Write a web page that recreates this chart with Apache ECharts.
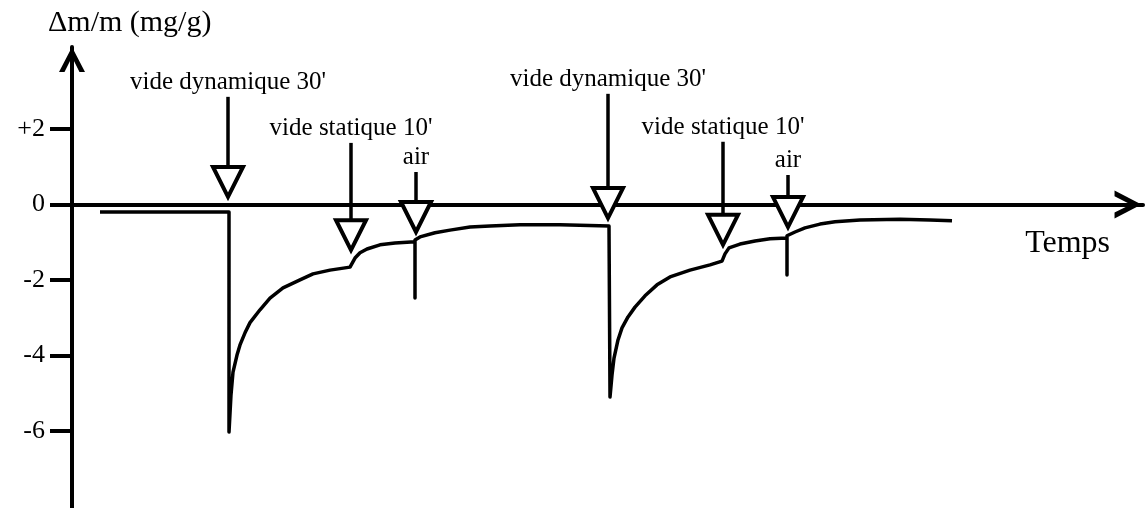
<!DOCTYPE html>
<html>
<head>
<meta charset="utf-8">
<script src="https://cdn.jsdelivr.net/npm/echarts@6/dist/echarts.min.js"></script>
<style>html,body{margin:0;padding:0;background:#fff;}#chart{width:1145px;height:508px;}</style>
</head>
<body>
<div id="chart"></div>
<script>
// ---- data (time in arbitrary units, mass change in mg/g) ----
const timeValues = [2.8, 15.7, 15.7, 15.9, 16.1, 16.5, 16.8, 17.3, 17.8, 18.8, 19.8, 21.1, 22.8, 24.1, 25.8, 27.8,
  28.0, 28.3, 28.8, 29.5, 30.8, 32.3, 34.3, 34.3, 34.3,
  34.8, 36.3, 37.8, 39.8, 41.8, 44.8, 48.8, 53.7, 53.8,
  54.0, 54.2, 54.6, 55.0, 55.6, 56.3, 57.3, 58.5, 59.8, 61.8, 63.8, 65.0,
  65.3, 65.7, 66.8, 68.3, 69.8, 71.5, 71.5, 71.5,
  72.3, 73.3, 74.8, 76.3, 78.8, 82.8, 85.8, 88.0];
const massValues = [-0.20, -0.20, -6.03, -5.04, -4.44, -3.99, -3.72, -3.40, -3.13, -2.79, -2.48, -2.21, -2.00, -1.84, -1.74, -1.66,
  -1.64, -1.42, -1.28, -1.18, -1.07, -1.02, -0.99, -2.48, -0.94,
  -0.86, -0.75, -0.68, -0.60, -0.57, -0.54, -0.54, -0.57, -5.10,
  -4.52, -4.07, -3.59, -3.27, -2.98, -2.72, -2.42, -2.13, -1.92, -1.74, -1.60, -1.50,
  -1.31, -1.15, -1.05, -0.97, -0.91, -0.89, -1.87, -0.83,
  -0.73, -0.62, -0.52, -0.46, -0.41, -0.39, -0.41, -0.43];

const eventTimes = [15.6, 27.9, 34.4, 53.6, 65.1, 71.6];
const eventTips  = [0.20, -1.21, -0.73, -0.36, -1.07, -0.60];
const eventTails = [2.85, 1.63, 0.86, 2.93, 1.66, 0.78];
const eventLabels = ["vide dynamique 30'", "vide statique 10'", "air", "vide dynamique 30'", "vide statique 10'", "air"];

const yTickValues = [2, 0, -2, -4, -6];
const yTickLabels = ['+2', '0', '-2', '-4', '-6'];

const yName = 'Δm/m (mg/g)';
const xName = 'Temps';

// ---- chart ----
const FONT = "'Liberation Serif', 'Times New Roman', serif";
const chevron = 'path://M0,25 L13,0 L26,25 L20.5,25 L13,10 L5.5,25 Z';

const curve = timeValues.map((t, i) => [t, massValues[i]]);
const events = eventTimes.map((t, i) => [t, eventTips[i], eventTails[i]]);

const chart = echarts.init(document.getElementById('chart'), null, {renderer: 'canvas'});
chart.setOption({
  animation: false,
  backgroundColor: '#fff',
  title: {
    text: yName, left: 43, top: 3,
    textStyle: {fontFamily: FONT, fontSize: 30, fontWeight: 'normal', color: '#000'}
  },
  grid: {left: 72, right: 2, top: 47, bottom: 0, containLabel: false},
  xAxis: {
    type: 'value', min: 0, max: 107.1,
    name: xName, nameLocation: 'end', nameGap: -33,
    nameTextStyle: {fontFamily: FONT, fontSize: 32, color: '#000', align: 'right', verticalAlign: 'top',
      padding: [23, 0, 0, 0]},
    axisLine: {onZero: true, symbol: ['none', chevron], symbolSize: [28, 30], symbolOffset: [0, -15],
      lineStyle: {color: '#000', width: 4}},
    axisTick: {show: false}, axisLabel: {show: false}, splitLine: {show: false}
  },
  yAxis: {
    type: 'value', min: -8.04, max: 4.17,
    axisLine: {symbol: ['none', chevron], symbolSize: [27, 25], symbolOffset: [0, -12.5],
      lineStyle: {color: '#000', width: 4}},
    axisTick: {show: true, customValues: yTickValues, length: 22, inside: false, lineStyle: {color: '#000', width: 4}},
    axisLabel: {show: true, customValues: yTickValues, margin: 27, fontFamily: FONT, fontSize: 26, color: '#000',
      formatter: v => { const k = yTickValues.indexOf(Math.round(v)); return k >= 0 ? yTickLabels[k] : ''; }},
    splitLine: {show: false}
  },
  series: [
    {
      type: 'line', data: curve, symbol: 'none', smooth: false,
      lineStyle: {color: '#000', width: 3.5, join: 'round'}, z: 3
    },
    {
      type: 'custom', data: events, clip: false, z: 4,
      renderItem: function (params, api) {
        const tip = api.coord([api.value(0), api.value(1)]);
        const tail = api.coord([api.value(0), api.value(2)]);
        const w = 30, h = 30;
        const x = tip[0];
        return {
          type: 'group',
          children: [
            {type: 'line', shape: {x1: x, y1: tail[1], x2: x, y2: tip[1] - h},
              style: {stroke: '#000', lineWidth: 3.5}},
            {type: 'polygon', shape: {points: [[x - w / 2, tip[1] - h], [x + w / 2, tip[1] - h], [x, tip[1]]]},
              style: {fill: '#fff', stroke: '#000', lineWidth: 4, lineJoin: 'miter'}},
            {type: 'text', x: x, y: tail[1] - 2,
              style: {text: eventLabels[params.dataIndex], font: "25px " + FONT, fill: '#000',
                align: 'center', verticalAlign: 'bottom'}}
          ]
        };
      }
    }
  ]
});
</script>
</body>
</html>
